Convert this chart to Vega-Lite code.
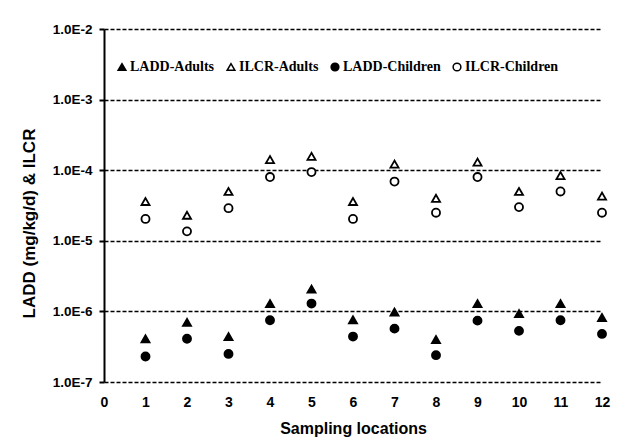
{
  "$schema": "https://vega.github.io/schema/vega-lite/v6.json",
  "autosize": "none",
  "width": 498,
  "height": 353,
  "padding": {"left": 104, "top": 29, "right": 29, "bottom": 66},
  "background": "white",
  "config": {
    "view": {"stroke": null},
    "axis": {"labelFont": "Liberation Sans", "titleFont": "Liberation Sans", "labelFontWeight": "bold", "titleFontWeight": "bold", "labelColor": "black", "titleColor": "black"}
  },
  "data": {
    "values": [
      {"loc": 1, "series": "LADD-Adults", "value": 4.1e-7},
      {"loc": 2, "series": "LADD-Adults", "value": 7.0e-7},
      {"loc": 3, "series": "LADD-Adults", "value": 4.4e-7},
      {"loc": 4, "series": "LADD-Adults", "value": 1.29e-6},
      {"loc": 5, "series": "LADD-Adults", "value": 2.07e-6},
      {"loc": 6, "series": "LADD-Adults", "value": 7.6e-7},
      {"loc": 7, "series": "LADD-Adults", "value": 9.8e-7},
      {"loc": 8, "series": "LADD-Adults", "value": 4.0e-7},
      {"loc": 9, "series": "LADD-Adults", "value": 1.29e-6},
      {"loc": 10, "series": "LADD-Adults", "value": 9.3e-7},
      {"loc": 11, "series": "LADD-Adults", "value": 1.29e-6},
      {"loc": 12, "series": "LADD-Adults", "value": 8.2e-7},
      {"loc": 1, "series": "ILCR-Adults", "value": 3.6e-5},
      {"loc": 2, "series": "ILCR-Adults", "value": 2.3e-5},
      {"loc": 3, "series": "ILCR-Adults", "value": 5.0e-5},
      {"loc": 4, "series": "ILCR-Adults", "value": 1.41e-4},
      {"loc": 5, "series": "ILCR-Adults", "value": 1.57e-4},
      {"loc": 6, "series": "ILCR-Adults", "value": 3.6e-5},
      {"loc": 7, "series": "ILCR-Adults", "value": 1.22e-4},
      {"loc": 8, "series": "ILCR-Adults", "value": 4.0e-5},
      {"loc": 9, "series": "ILCR-Adults", "value": 1.3e-4},
      {"loc": 10, "series": "ILCR-Adults", "value": 5.0e-5},
      {"loc": 11, "series": "ILCR-Adults", "value": 8.4e-5},
      {"loc": 12, "series": "ILCR-Adults", "value": 4.3e-5},
      {"loc": 1, "series": "LADD-Children", "value": 2.3e-7},
      {"loc": 2, "series": "LADD-Children", "value": 4.1e-7},
      {"loc": 3, "series": "LADD-Children", "value": 2.5e-7},
      {"loc": 4, "series": "LADD-Children", "value": 7.5e-7},
      {"loc": 5, "series": "LADD-Children", "value": 1.29e-6},
      {"loc": 6, "series": "LADD-Children", "value": 4.4e-7},
      {"loc": 7, "series": "LADD-Children", "value": 5.7e-7},
      {"loc": 8, "series": "LADD-Children", "value": 2.4e-7},
      {"loc": 9, "series": "LADD-Children", "value": 7.4e-7},
      {"loc": 10, "series": "LADD-Children", "value": 5.3e-7},
      {"loc": 11, "series": "LADD-Children", "value": 7.5e-7},
      {"loc": 12, "series": "LADD-Children", "value": 4.8e-7},
      {"loc": 1, "series": "ILCR-Children", "value": 2.04e-5},
      {"loc": 2, "series": "ILCR-Children", "value": 1.36e-5},
      {"loc": 3, "series": "ILCR-Children", "value": 2.9e-5},
      {"loc": 4, "series": "ILCR-Children", "value": 8.0e-5},
      {"loc": 5, "series": "ILCR-Children", "value": 9.4e-5},
      {"loc": 6, "series": "ILCR-Children", "value": 2.04e-5},
      {"loc": 7, "series": "ILCR-Children", "value": 6.9e-5},
      {"loc": 8, "series": "ILCR-Children", "value": 2.5e-5},
      {"loc": 9, "series": "ILCR-Children", "value": 8.0e-5},
      {"loc": 10, "series": "ILCR-Children", "value": 3.0e-5},
      {"loc": 11, "series": "ILCR-Children", "value": 5.0e-5},
      {"loc": 12, "series": "ILCR-Children", "value": 2.5e-5}
    ]
  },
  "mark": {"type": "point", "filled": true, "stroke": "black", "strokeWidth": 1.8, "opacity": 1, "size": 65},
  "encoding": {
    "x": {
      "field": "loc", "type": "quantitative",
      "scale": {"domain": [0, 12], "nice": false, "zero": true},
      "axis": {"title": "Sampling locations", "values": [0,1,2,3,4,5,6,7,8,9,10,11,12], "domain": false, "ticks": false, "grid": false, "labelFlush": false, "labelFontSize": 14, "labelPadding": 13, "titleFontSize": 16, "titlePadding": 11}
    },
    "y": {
      "field": "value", "type": "quantitative",
      "scale": {"type": "log", "domain": [1e-7, 1e-2], "nice": false},
      "axis": {
        "title": "LADD (mg/kg/d)  & ILCR",
        "values": [1e-7, 1e-6, 1e-5, 1e-4, 1e-3, 1e-2],
        "labelExpr": "'1.0E' + round(log(datum.value)/LN10)",
        "labelFontSize": 13.5, "labelPadding": 7,
        "tickSize": 5, "tickColor": "black", "tickWidth": 2,
        "domainColor": "black", "domainWidth": 2,
        "grid": true, "gridColor": "black", "gridDash": [4, 2], "gridWidth": 1.5, "gridOpacity": 1,
        "titleFontSize": 17, "titleAngle": -90, "titleX": -75, "titleY": 194, "titleAlign": "center", "titleBaseline": "middle"
      }
    },
    "shape": {
      "field": "series", "type": "nominal",
      "scale": {"domain": ["LADD-Adults", "ILCR-Adults", "LADD-Children", "ILCR-Children"], "range": ["triangle-up", "triangle-up", "circle", "circle"]},
      "legend": {
        "title": null, "orient": "none", "direction": "horizontal", "legendX": 11, "legendY": 31,
        "labelFont": "Liberation Serif", "labelFontWeight": "bold", "labelFontSize": 14, "labelColor": "black",
        "symbolSize": 60, "labelOffset": 1, "columnPadding": 9, "padding": 0,
        "encode": {"symbols": {"update": {"stroke": {"value": "black"}, "strokeWidth": {"value": 1.8}}}}
      }
    },
    "fill": {
      "field": "series", "type": "nominal",
      "scale": {"domain": ["LADD-Adults", "ILCR-Adults", "LADD-Children", "ILCR-Children"], "range": ["black", "white", "black", "white"]},
      "legend": {
        "title": null, "orient": "none", "direction": "horizontal", "legendX": 11, "legendY": 31,
        "labelFont": "Liberation Serif", "labelFontWeight": "bold", "labelFontSize": 14, "labelColor": "black",
        "symbolSize": 60, "labelOffset": 1, "columnPadding": 9, "padding": 0,
        "encode": {"symbols": {"update": {"stroke": {"value": "black"}, "strokeWidth": {"value": 1.8}}}}
      }
    }
  }
}
